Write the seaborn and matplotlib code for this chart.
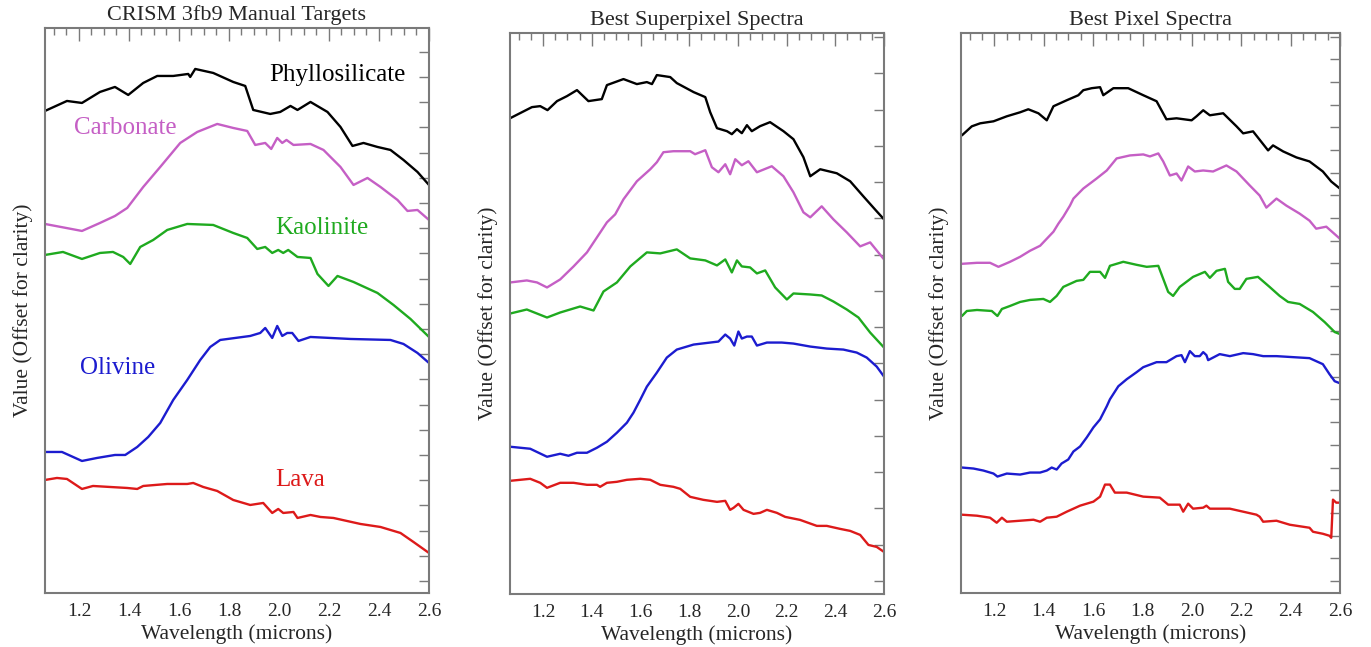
import matplotlib
matplotlib.use("Agg")
import matplotlib.pyplot as plt
from matplotlib.ticker import MultipleLocator
import pandas as pd
import seaborn as sns

# ---------------------------------------------------------------------------
# spectra: wavelength (microns), value (arbitrary, offset)
# ---------------------------------------------------------------------------

# panel 1 : CRISM 3fb9 manual targets
man_phyl_wl = [1.064, 1.152, 1.212, 1.284, 1.344, 1.397, 1.457, 1.513, 1.577, 1.637, 1.645, 1.665, 1.737, 1.817, 1.865,
               1.897, 1.965, 2.005, 2.046, 2.074, 2.126, 2.194, 2.246, 2.294, 2.338, 2.394, 2.446, 2.498, 2.554, 2.6]
man_phyl = [470, 480, 478, 489, 494, 486, 498, 505, 505, 507, 504, 512, 508, 499, 495,
            471, 467, 469, 475, 471, 479, 469, 454, 435, 438, 434, 431, 421, 409, 396]

man_carb_wl = [1.064, 1.212, 1.284, 1.344, 1.393, 1.457, 1.525, 1.605, 1.673, 1.753, 1.817, 1.873, 1.905, 1.945, 1.969,
               1.993, 2.013, 2.030, 2.058, 2.126, 2.178, 2.246, 2.298, 2.354, 2.406, 2.474, 2.514, 2.554, 2.6]
man_carb = [357, 350, 358, 365, 373, 394, 414, 438, 449, 457, 453, 450, 436, 438, 432,
            443, 438, 441, 436, 437, 431, 414, 396, 403, 394, 381, 370, 371, 361]

man_kaol_wl = [1.064, 1.136, 1.212, 1.284, 1.336, 1.377, 1.405, 1.445, 1.497, 1.553, 1.633, 1.737, 1.817, 1.873, 1.913,
               1.945, 1.973, 1.997, 2.017, 2.037, 2.074, 2.126, 2.154, 2.198, 2.234, 2.298, 2.394, 2.458, 2.526, 2.6]
man_kaol = [326, 329, 322, 328, 329, 324, 317, 334, 341, 351, 357, 356, 348, 343, 332,
            334, 328, 331, 328, 331, 324, 323, 307, 295, 305, 299, 288, 276, 262, 244]

man_oliv_wl = [1.064, 1.132, 1.212, 1.272, 1.344, 1.385, 1.433, 1.477, 1.525, 1.577, 1.633, 1.685, 1.725, 1.765, 1.885,
               1.925, 1.945, 1.973, 1.993, 2.013, 2.033, 2.053, 2.078, 2.126, 2.286, 2.446, 2.498, 2.554, 2.6]
man_oliv = [129, 129, 120, 123, 126, 126, 134, 144, 158, 181, 201, 221, 234, 241, 245,
            248, 253, 243, 255, 245, 248, 248, 240, 244, 242, 241, 237, 228, 218]

man_lava_wl = [1.064, 1.112, 1.152, 1.212, 1.256, 1.324, 1.393, 1.433, 1.457, 1.553, 1.633, 1.657, 1.697, 1.753, 1.817,
               1.885, 1.937, 1.973, 1.997, 2.017, 2.058, 2.074, 2.126, 2.166, 2.218, 2.326, 2.406, 2.486, 2.538, 2.6]
man_lava = [101, 103, 102, 92, 95, 94, 93, 92, 95, 97, 97, 98, 94, 90, 81,
            76, 78, 68, 72, 68, 69, 63, 66, 64, 63, 57, 54, 48, 39, 28]

# panel 2 : best superpixel spectra
sup_phyl_wl = [1.065, 1.154, 1.188, 1.218, 1.257, 1.298, 1.339, 1.386, 1.441, 1.462, 1.530, 1.585, 1.626, 1.647, 1.667,
               1.722, 1.749, 1.818, 1.866, 1.886, 1.914, 1.955, 1.975, 1.996, 2.016, 2.037, 2.057, 2.091, 2.132, 2.187,
               2.228, 2.269, 2.297, 2.338, 2.406, 2.461, 2.515, 2.570, 2.6]
sup_phyl = [462, 473, 474, 470, 479, 484, 490, 479, 481, 495, 501, 496, 498, 496, 505,
            503, 497, 488, 483, 468, 452, 449, 446, 451, 447, 455, 449, 454, 458, 449,
            441, 423, 404, 411, 407, 399, 384, 369, 361]

sup_carb_wl = [1.065, 1.133, 1.175, 1.216, 1.270, 1.325, 1.380, 1.421, 1.462, 1.496, 1.530, 1.585, 1.640, 1.667, 1.694,
               1.735, 1.804, 1.824, 1.866, 1.893, 1.920, 1.948, 1.968, 1.989, 2.016, 2.043, 2.078, 2.139, 2.187, 2.228,
               2.269, 2.297, 2.344, 2.392, 2.447, 2.502, 2.543, 2.6]
sup_carb = [298, 300, 298, 293, 301, 314, 328, 343, 358, 366, 381, 399, 411, 418, 428,
            429, 429, 426, 430, 413, 408, 416, 406, 421, 415, 419, 408, 414, 404, 388,
            368, 363, 374, 361, 348, 334, 338, 321]

sup_kaol_wl = [1.065, 1.133, 1.216, 1.270, 1.352, 1.407, 1.448, 1.503, 1.558, 1.626, 1.681, 1.749, 1.804, 1.866, 1.914,
               1.948, 1.975, 1.996, 2.016, 2.050, 2.078, 2.112, 2.153, 2.201, 2.228, 2.297, 2.344, 2.392, 2.447, 2.495,
               2.543, 2.6]
sup_kaol = [267, 271, 263, 268, 274, 270, 289, 298, 314, 328, 327, 331, 322, 320, 315,
            321, 308, 320, 314, 313, 307, 310, 293, 281, 287, 286, 285, 279, 271, 263,
            248, 233]

sup_oliv_wl = [1.065, 1.106, 1.147, 1.216, 1.270, 1.304, 1.339, 1.380, 1.421, 1.462, 1.503, 1.544, 1.571, 1.599, 1.626,
               1.667, 1.708, 1.749, 1.818, 1.886, 1.920, 1.948, 1.968, 1.985, 2.002, 2.016, 2.037, 2.057, 2.078, 2.119,
               2.180, 2.228, 2.297, 2.365, 2.433, 2.488, 2.529, 2.570, 2.6]
sup_oliv = [134, 133, 132, 124, 127, 125, 128, 128, 133, 139, 148, 158, 168, 181, 194,
            208, 223, 231, 236, 238, 239, 246, 242, 235, 249, 242, 244, 244, 235, 238,
            238, 237, 234, 232, 231, 228, 223, 214, 204]

sup_lava_wl = [1.065, 1.106, 1.147, 1.188, 1.216, 1.270, 1.325, 1.380, 1.421, 1.434, 1.462, 1.503, 1.544, 1.599, 1.640,
               1.681, 1.735, 1.763, 1.804, 1.858, 1.914, 1.948, 1.968, 1.982, 2.002, 2.023, 2.064, 2.091, 2.119, 2.160,
               2.194, 2.255, 2.324, 2.365, 2.420, 2.461, 2.502, 2.536, 2.570, 2.6]
sup_lava = [100, 101, 102, 98, 93, 98, 98, 96, 96, 94, 98, 99, 101, 102, 101,
            96, 94, 92, 84, 81, 79, 80, 71, 73, 77, 71, 67, 68, 71, 68,
            64, 61, 55, 55, 52, 50, 46, 36, 34, 29]

# panel 3 : best pixel spectra
pix_phyl_wl = [1.068, 1.108, 1.142, 1.196, 1.250, 1.304, 1.337, 1.378, 1.412, 1.439, 1.493, 1.540, 1.560, 1.594, 1.628,
               1.641, 1.682, 1.742, 1.803, 1.857, 1.897, 1.938, 1.999, 2.019, 2.046, 2.073, 2.127, 2.181, 2.208, 2.248,
               2.309, 2.329, 2.370, 2.424, 2.477, 2.531, 2.565, 2.6]
pix_phyl = [444, 453, 456, 458, 463, 467, 470, 466, 459, 473, 479, 484, 489, 491, 492,
            484, 491, 491, 484, 478, 460, 461, 459, 463, 469, 464, 466, 453, 446, 448,
            429, 434, 428, 422, 418, 408, 398, 391]

pix_carb_wl = [1.068, 1.129, 1.182, 1.216, 1.263, 1.304, 1.344, 1.385, 1.412, 1.439, 1.459, 1.479, 1.506, 1.520, 1.560,
               1.614, 1.655, 1.695, 1.749, 1.803, 1.830, 1.864, 1.884, 1.911, 1.938, 1.958, 1.985, 2.012, 2.046, 2.086,
               2.140, 2.181, 2.235, 2.275, 2.302, 2.343, 2.383, 2.437, 2.477, 2.504, 2.545, 2.6]
pix_carb = [316, 317, 317, 313, 318, 323, 329, 334, 341, 348, 356, 363, 374, 381, 391,
            401, 409, 421, 424, 425, 423, 426, 418, 404, 406, 399, 413, 408, 409, 408,
            414, 408, 394, 384, 372, 381, 374, 366, 359, 351, 353, 341]

pix_kaol_wl = [1.068, 1.088, 1.129, 1.189, 1.212, 1.230, 1.263, 1.304, 1.344, 1.398, 1.425, 1.452, 1.479, 1.533, 1.560,
               1.587, 1.628, 1.648, 1.668, 1.722, 1.776, 1.817, 1.864, 1.884, 1.904, 1.924, 1.951, 2.005, 2.053, 2.073,
               2.100, 2.134, 2.147, 2.174, 2.194, 2.221, 2.268, 2.315, 2.356, 2.390, 2.437, 2.491, 2.538, 2.579, 2.6]
pix_kaol = [264, 269, 270, 269, 264, 271, 274, 278, 280, 281, 278, 284, 293, 299, 300,
            308, 308, 302, 314, 318, 315, 313, 314, 301, 288, 284, 293, 303, 308, 302,
            309, 311, 298, 291, 291, 301, 303, 293, 284, 278, 276, 268, 258, 248, 246]

pix_oliv_wl = [1.068, 1.115, 1.155, 1.196, 1.212, 1.250, 1.304, 1.344, 1.385, 1.412, 1.432, 1.452, 1.472, 1.499, 1.520,
               1.547, 1.574, 1.601, 1.628, 1.655, 1.668, 1.702, 1.736, 1.776, 1.803, 1.857, 1.897, 1.938, 1.958, 1.972,
               1.992, 2.012, 2.032, 2.046, 2.059, 2.066, 2.113, 2.154, 2.208, 2.248, 2.289, 2.343, 2.410, 2.477, 2.531,
               2.558, 2.579, 2.6]
pix_oliv = [113, 112, 110, 107, 104, 107, 106, 108, 108, 110, 113, 111, 117, 121, 129,
            134, 143, 153, 161, 174, 181, 194, 201, 208, 213, 218, 218, 224, 225, 218,
            229, 224, 224, 228, 225, 220, 226, 224, 227, 226, 224, 224, 223, 222, 216,
            206, 199, 197]

pix_lava_wl = [1.068, 1.129, 1.182, 1.209, 1.230, 1.250, 1.304, 1.358, 1.385, 1.412, 1.452, 1.493, 1.547, 1.601, 1.628,
               1.648, 1.668, 1.688, 1.736, 1.803, 1.870, 1.904, 1.951, 1.965, 1.985, 2.005, 2.046, 2.059, 2.073, 2.154,
               2.208, 2.262, 2.275, 2.289, 2.343, 2.397, 2.477, 2.491, 2.531, 2.558, 2.565, 2.572, 2.585, 2.6]
pix_lava = [66, 65, 63, 58, 63, 59, 60, 61, 59, 63, 64, 69, 75, 79, 84,
            96, 96, 88, 88, 84, 83, 76, 76, 69, 77, 72, 73, 75, 72, 72,
            69, 66, 64, 59, 60, 56, 53, 49, 47, 45, 43, 81, 78, 78]

MINERALS = ["Phyllosilicate", "Carbonate", "Kaolinite", "Olivine", "Lava"]
COLORS = {
    "Phyllosilicate": "#000000",
    "Carbonate": "#c55fc5",
    "Kaolinite": "#1faa1f",
    "Olivine": "#1c1ccf",
    "Lava": "#dd1a1a",
}

PANELS = [
    ("CRISM 3fb9 Manual Targets",
     [(man_phyl_wl, man_phyl), (man_carb_wl, man_carb), (man_kaol_wl, man_kaol),
      (man_oliv_wl, man_oliv), (man_lava_wl, man_lava)]),
    ("Best Superpixel Spectra",
     [(sup_phyl_wl, sup_phyl), (sup_carb_wl, sup_carb), (sup_kaol_wl, sup_kaol),
      (sup_oliv_wl, sup_oliv), (sup_lava_wl, sup_lava)]),
    ("Best Pixel Spectra",
     [(pix_phyl_wl, pix_phyl), (pix_carb_wl, pix_carb), (pix_kaol_wl, pix_kaol),
      (pix_oliv_wl, pix_oliv), (pix_lava_wl, pix_lava)]),
]

# label anchors in panel 1 (wavelength, value)
label_wl = [2.234, 1.385, 2.170, 1.356, 2.086]
label_val = [506, 453, 353, 213, 101]

# per panel layout: axes rect, y-limits, y tick step
AX_RECTS = [
    [0.0328, 0.0835, 0.2801, 0.8733],
    [0.3720, 0.0819, 0.2728, 0.8671],
    [0.7009, 0.0835, 0.2764, 0.8655],
]
Y_LIMS = [(-12, 553), (-13, 547), (-12, 546)]
Y_STEPS = [25.2, 36.2, 22.6]


def to_frame(curves) -> pd.DataFrame:
    parts = []
    for name, (wl, val) in zip(MINERALS, curves):
        parts.append(pd.DataFrame({"Wavelength": wl, "Value": val, "Mineral": name}))
    return pd.concat(parts, ignore_index=True)


sns.set_style("white")
plt.rcParams["font.family"] = ["Liberation Serif", "DejaVu Serif"]

fig = plt.figure(figsize=(13.71, 6.47), dpi=100)
frame_grey = "#7a7a7a"

for i, (title, curves) in enumerate(PANELS):
    ax = fig.add_axes(AX_RECTS[i])
    df = to_frame(curves)
    sns.lineplot(
        data=df, x="Wavelength", y="Value", hue="Mineral",
        hue_order=MINERALS, palette=COLORS, sort=False, estimator=None,
        linewidth=1.7, legend=False, ax=ax,
    )

    ax.set_xlim(1.064, 2.6)
    ax.set_ylim(*Y_LIMS[i])
    ax.xaxis.set_minor_locator(MultipleLocator(0.05))
    ax.yaxis.set_major_locator(MultipleLocator(Y_STEPS[i]))
    ax.set_yticklabels([])
    ax.set_xticks([1.2, 1.4, 1.6, 1.8, 2.0, 2.2, 2.4, 2.6])
    ax.set_xticklabels(["1.2", "1.4", "1.6", "1.8", "2.0", "2.2", "2.4", "2.6"])

    ax.tick_params(axis="both", which="both", direction="in", top=True, right=True,
                   color=frame_grey, width=1.0)
    ax.tick_params(axis="x", which="major", length=9, labelsize=14, pad=7)
    ax.tick_params(axis="x", which="minor", length=5)
    ax.tick_params(axis="y", which="major", length=7)
    for sp in ax.spines.values():
        sp.set_color(frame_grey)
        sp.set_linewidth(1.5)

    ax.set_title(title, fontsize=16, pad=6)
    ax.set_xlabel("Wavelength (microns)", fontsize=15.5, labelpad=3)
    ax.set_ylabel("Value (Offset for clarity)", fontsize=15.5, labelpad=5)

    if i == 0:
        for name, lx, ly in zip(MINERALS, label_wl, label_val):
            ax.text(lx, ly, name, color=COLORS[name], fontsize=18,
                    ha="center", va="center")

fig.savefig("out.png", dpi=100)
